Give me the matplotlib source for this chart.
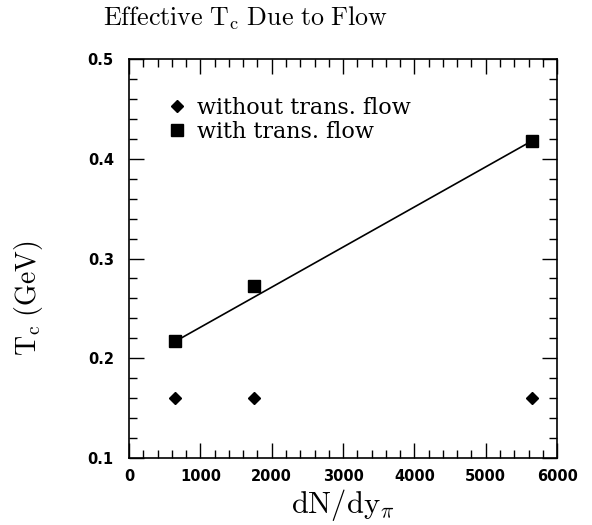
import matplotlib
matplotlib.use('Agg')
import matplotlib.pyplot as plt
from matplotlib.ticker import MultipleLocator

plt.rcParams['mathtext.fontset'] = 'cm'

# data
dndy = [650, 1750, 5650]
tc_no_flow = [0.160, 0.160, 0.160]
tc_flow = [0.217, 0.272, 0.418]
fit_x = [650, 5650]
fit_y = [0.217, 0.418]

fig = plt.figure(figsize=(5.92, 5.25), dpi=100)
ax = fig.add_axes([0.218, 0.1276, 0.723, 0.76])

ax.plot(fit_x, fit_y, color='black', lw=1.2, zorder=2)
ax.plot(dndy, tc_no_flow, 'D', color='black', ms=6.4, ls='none',
        label='without trans. flow', zorder=3)
ax.plot(dndy, tc_flow, 's', color='black', ms=8.8, ls='none',
        label='with trans. flow', zorder=3)

ax.set_xlim(0, 6000)
ax.set_ylim(0.1, 0.5)
ax.xaxis.set_major_locator(MultipleLocator(1000))
ax.xaxis.set_minor_locator(MultipleLocator(200))
ax.yaxis.set_major_locator(MultipleLocator(0.1))
ax.yaxis.set_minor_locator(MultipleLocator(0.02))
ax.tick_params(which='both', direction='in', top=True, right=True, width=1)
ax.tick_params(which='major', length=11)
ax.tick_params(which='minor', length=6)
ax.tick_params(axis='x', pad=8)
ax.tick_params(axis='y', pad=11)
for lab in ax.get_xticklabels() + ax.get_yticklabels():
    lab.set_fontfamily('DejaVu Sans')
    lab.set_fontweight('bold')
    lab.set_fontsize(10.5)
for sp in ax.spines.values():
    sp.set_linewidth(1.2)

ax.set_xlabel(r'$\mathrm{dN/dy_{\pi}}$', fontsize=22, labelpad=2)
ax.set_ylabel(r'$\mathrm{T_c\ (GeV)}$', fontsize=20)
ax.yaxis.set_label_coords(-0.197, 0.40)

fig.text(103 / 592, 1 - 25 / 525, r'$\mathrm{Effective\ T_c\ Due\ to\ Flow}$',
         fontsize=18.7, ha='left', va='baseline')

ax.legend(loc='upper left', bbox_to_anchor=(0.044, 0.956), frameon=False,
          handlelength=0.8, handletextpad=0.5, labelspacing=0.1,
          prop={'family': 'DejaVu Serif', 'size': 16})

fig.savefig('out.png', dpi=100)
